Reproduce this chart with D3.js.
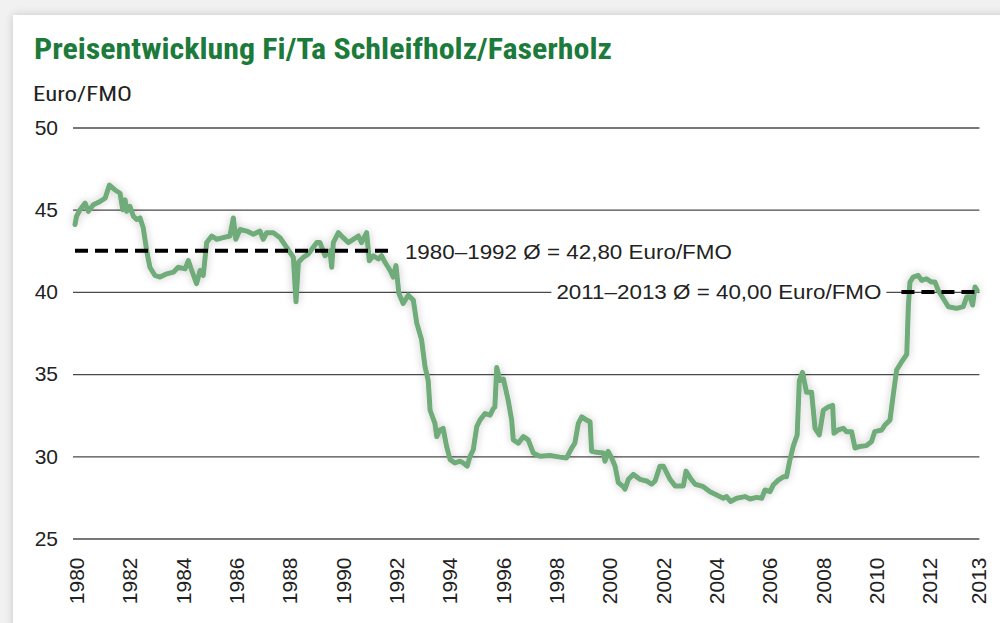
<!DOCTYPE html>
<html>
<head>
<meta charset="utf-8">
<script src="https://cdn.jsdelivr.net/npm/d3@7"></script>
<style>
  html, body { margin: 0; padding: 0; background: #f1f1f1; }
  svg { display: block; }
</style>
</head>
<body>
<svg id="chart" width="1000" height="623"></svg>
<script>
// ---- data ----
const dates = [
  1980.00,1980.06,1980.19,1980.38,1980.50,1980.69,1980.94,1981.13,1981.29,1981.50,
  1981.69,1981.79,1981.88,1981.94,1982.06,1982.19,1982.31,1982.44,1982.56,1982.69,
  1982.81,1983.00,1983.19,1983.44,1983.69,1983.87,1984.13,1984.25,1984.38,1984.56,
  1984.69,1984.81,1984.94,1985.13,1985.32,1985.56,1985.81,1985.94,1986.03,1986.19,
  1986.44,1986.69,1986.94,1987.06,1987.19,1987.44,1987.69,1987.94,1988.19,1988.29,
  1988.38,1988.56,1988.75,1989.07,1989.19,1989.38,1989.56,1989.63,1989.69,1989.88,
  1990.06,1990.25,1990.44,1990.63,1990.75,1990.94,1991.04,1991.19,1991.38,1991.50,
  1991.63,1991.82,1991.94,1992.04,1992.15,1992.31,1992.50,1992.69,1992.82,1993.00,
  1993.13,1993.25,1993.32,1993.50,1993.57,1993.69,1993.81,1993.94,1994.07,1994.25,
  1994.44,1994.56,1994.71,1994.82,1994.94,1995.07,1995.19,1995.38,1995.57,1995.69,
  1995.75,1995.82,1995.94,1996.07,1996.25,1996.38,1996.44,1996.63,1996.82,1997.00,
  1997.19,1997.44,1997.82,1998.19,1998.44,1998.63,1998.75,1998.88,1999.01,1999.19,
  1999.32,1999.38,1999.57,1999.82,1999.88,2000.00,2000.13,2000.26,2000.38,2000.57,
  2000.63,2000.76,2000.94,2001.19,2001.44,2001.63,2001.76,2001.94,2002.07,2002.32,
  2002.51,2002.82,2002.92,2003.07,2003.26,2003.57,2003.82,2004.07,2004.32,2004.44,
  2004.59,2004.82,2005.13,2005.32,2005.57,2005.76,2005.88,2006.07,2006.19,2006.38,
  2006.57,2006.69,2006.82,2006.94,2007.09,2007.17,2007.29,2007.44,2007.63,2007.76,
  2007.92,2008.07,2008.25,2008.42,2008.47,2008.63,2008.82,2008.94,2009.13,2009.26,
  2009.44,2009.69,2009.88,2010.00,2010.26,2010.38,2010.57,2010.69,2010.82,2011.01,
  2011.20,2011.26,2011.32,2011.44,2011.63,2011.76,2011.94,2012.13,2012.26,2012.38,
  2012.57,2012.76,2013.07,2013.32,2013.45,2013.57,2013.67,2013.76,2013.84
];
const prices = [
  44.1,44.6,45.0,45.4,44.9,45.3,45.5,45.7,46.5,46.2,
  46.0,45.0,45.6,44.9,45.2,44.6,44.4,44.5,43.9,42.5,
  41.5,41.0,40.9,41.1,41.2,41.5,41.4,41.9,41.3,40.5,
  41.3,41.0,43.0,43.4,43.2,43.3,43.4,44.5,43.2,43.8,
  43.7,43.5,43.7,43.2,43.6,43.6,43.3,42.7,42.1,39.4,
  41.8,42.1,42.3,43.0,43.0,42.2,42.5,41.5,43.0,43.6,
  43.3,43.0,43.2,43.4,43.0,43.6,41.9,42.2,42.0,42.2,
  41.8,41.3,40.9,41.6,39.9,39.3,39.8,39.5,38.1,37.1,
  35.45,34.6,32.8,32.0,31.2,31.6,31.7,30.6,29.8,29.6,
  29.7,29.6,29.4,30.0,30.4,31.8,32.2,32.6,32.5,32.9,
  33.0,35.4,34.6,34.7,33.4,32.2,31.0,30.8,31.2,31.0,
  30.2,30.0,30.05,29.95,29.9,30.5,30.8,32.0,32.4,32.2,
  32.1,30.3,30.25,30.2,29.7,30.3,29.9,29.4,28.4,28.15,
  28.0,28.6,28.9,28.6,28.5,28.3,28.5,29.4,29.4,28.6,
  28.2,28.2,29.1,28.7,28.3,28.15,27.85,27.65,27.45,27.55,
  27.25,27.45,27.55,27.4,27.5,27.45,27.95,27.85,28.25,28.55,
  28.75,28.75,29.8,30.6,31.3,34.6,35.1,33.9,33.9,31.7,
  31.3,32.8,33.0,33.1,31.4,31.6,31.7,31.5,31.5,30.5,
  30.6,30.65,30.9,31.5,31.6,31.9,32.2,33.7,35.25,35.75,
  36.2,39.1,40.6,40.9,41.0,40.7,40.8,40.6,40.6,40.1,
  39.6,39.1,39.0,39.1,39.7,39.7,39.2,40.3,40.1
];
const yTicks = [25, 30, 35, 40, 45, 50];
const xTickYears = [1980,1982,1984,1986,1988,1990,1992,1994,1996,1998,2000,2002,2004,2006,2008,2010,2012,2013];
const avgPeriods = [
  { from: 1980, to: 1992, drawnLevel: 42.5, label: "1980–1992 Ø = 42,80 Euro/FMO" },
  { from: 2011, to: 2014, drawnLevel: 40.0, label: "2011–2013 Ø = 40,00 Euro/FMO" }
];
const titleText = "Preisentwicklung Fi/Ta Schleifholz/Faserholz";
const unitText = "Euro/FMO";

// ---- drawing ----
const svg = d3.select("#chart");
const defs = svg.append("defs");

const cardShadow = defs.append("filter").attr("id", "cardShadow")
  .attr("x", "-5%").attr("y", "-5%").attr("width", "110%").attr("height", "110%");
cardShadow.append("feGaussianBlur").attr("in", "SourceAlpha").attr("stdDeviation", 5).attr("result", "b");
cardShadow.append("feComponentTransfer").attr("in", "b").attr("result", "b2")
  .append("feFuncA").attr("type", "linear").attr("slope", 0.18);
const cm = cardShadow.append("feMerge");
cm.append("feMergeNode").attr("in", "b2");
cm.append("feMergeNode").attr("in", "SourceGraphic");

const glow = defs.append("filter").attr("id", "glow")
  .attr("x", "-5%").attr("y", "-20%").attr("width", "110%").attr("height", "140%");
glow.append("feGaussianBlur").attr("in", "SourceAlpha").attr("stdDeviation", 4).attr("result", "g");
glow.append("feComponentTransfer").attr("in", "g").attr("result", "g2")
  .append("feFuncA").attr("type", "linear").attr("slope", 0.22);
const gm = glow.append("feMerge");
gm.append("feMergeNode").attr("in", "g2");
gm.append("feMergeNode").attr("in", "SourceGraphic");

svg.append("rect").attr("x", 13).attr("y", 15).attr("width", 1000).attr("height", 640)
  .attr("fill", "#ffffff").attr("filter", "url(#cardShadow)");

const x = d3.scaleLinear().domain([1980, 2014]).range([75, 981.4]);
const y = d3.scaleLinear().domain([25, 50]).range([538.5, 127.5]);

// title + unit
svg.append("text").attr("x", 34).attr("y", 59)
  .attr("font-family", "'Liberation Sans Narrow', 'Roboto Condensed', 'Liberation Sans', Arial, sans-serif")
  .attr("font-weight", "bold").attr("font-size", 29).attr("fill", "#1c7b3b")
  .attr("textLength", 578).attr("lengthAdjust", "spacingAndGlyphs")
  .text(titleText);
svg.append("text").attr("x", 33).attr("y", 100.5)
  .attr("font-family", "'Liberation Sans Narrow', 'Roboto Condensed', 'Liberation Sans', Arial, sans-serif")
  .attr("font-size", 21).attr("fill", "#222")
  .attr("textLength", 99).attr("lengthAdjust", "spacingAndGlyphs")
  .text(unitText);

// y axis: gridlines + labels
const yAxis = d3.axisLeft(y).tickValues(yTicks)
  .tickSize(-(x.range()[1] - x.range()[0]))
  .tickPadding(15);
const gy = svg.append("g").attr("transform", `translate(${x.range()[0] - 2},0)`).call(yAxis);
gy.select(".domain").remove();
gy.selectAll(".tick line").attr("stroke", "#4a4a4a").attr("stroke-width", 1.3);
gy.selectAll(".tick text")
  .attr("font-family", "'Liberation Sans', Arial, sans-serif")
  .attr("font-size", 21).attr("fill", "#222").attr("x", -15);

// x axis labels (rotated); the last label sits at the end of the axis
const xAxis = d3.axisBottom(x).tickValues(xTickYears).tickSize(0).tickPadding(0)
  .tickFormat(d3.format("d"));
const gx = svg.append("g").attr("transform", `translate(0,${y(25)})`).call(xAxis);
gx.select(".domain").remove();
gx.selectAll(".tick").attr("transform", d =>
  `translate(${d === xTickYears[xTickYears.length - 1] ? x.range()[1] - 3 : x(d) + 1.5},0)`);
gx.selectAll(".tick text")
  .attr("font-family", "'Liberation Sans', Arial, sans-serif")
  .attr("font-size", 21).attr("fill", "#222")
  .attr("text-anchor", "end")
  .attr("transform", "translate(0,19) rotate(-90)")
  .attr("x", 0).attr("y", 0).attr("dy", "0.36em");

// price line
const series = dates.map((d, i) => ({ t: d, v: prices[i] }));
svg.append("path").datum(series)
  .attr("fill", "none").attr("stroke", "#6fab7a").attr("stroke-width", 5)
  .attr("stroke-linejoin", "round").attr("stroke-linecap", "round")
  .attr("filter", "url(#glow)")
  .attr("d", d3.line().x(d => x(d.t)).y(d => y(d.v)));

// average lines + labels
avgPeriods.forEach((p, i) => {
  svg.append("line")
    .attr("x1", x(p.from)).attr("x2", x(p.to))
    .attr("y1", y(p.drawnLevel)).attr("y2", y(p.drawnLevel))
    .attr("stroke", "#000").attr("stroke-width", 4).attr("stroke-dasharray", "13,7");
});

// label 1: right of the first dashed line
const p0 = avgPeriods[0];
svg.append("text").attr("x", x(p0.to) + 10).attr("y", y(p0.drawnLevel) + 8)
  .attr("font-family", "'Liberation Sans', Arial, sans-serif")
  .attr("font-size", 20).attr("fill", "#222")
  .attr("textLength", 327).attr("lengthAdjust", "spacingAndGlyphs")
  .text(p0.label);

// label 2: left of the second dashed line, on a white background over the gridline
const p1 = avgPeriods[1];
const l2x = x(p1.from) - 345;
svg.append("rect").attr("x", l2x - 5).attr("y", y(p1.drawnLevel) - 13)
  .attr("width", 335).attr("height", 26).attr("fill", "#fff");
svg.append("text").attr("x", l2x).attr("y", y(p1.drawnLevel) + 7)
  .attr("font-family", "'Liberation Sans', Arial, sans-serif")
  .attr("font-size", 20).attr("fill", "#222")
  .attr("textLength", 325).attr("lengthAdjust", "spacingAndGlyphs")
  .text(p1.label);
</script>
</body>
</html>
